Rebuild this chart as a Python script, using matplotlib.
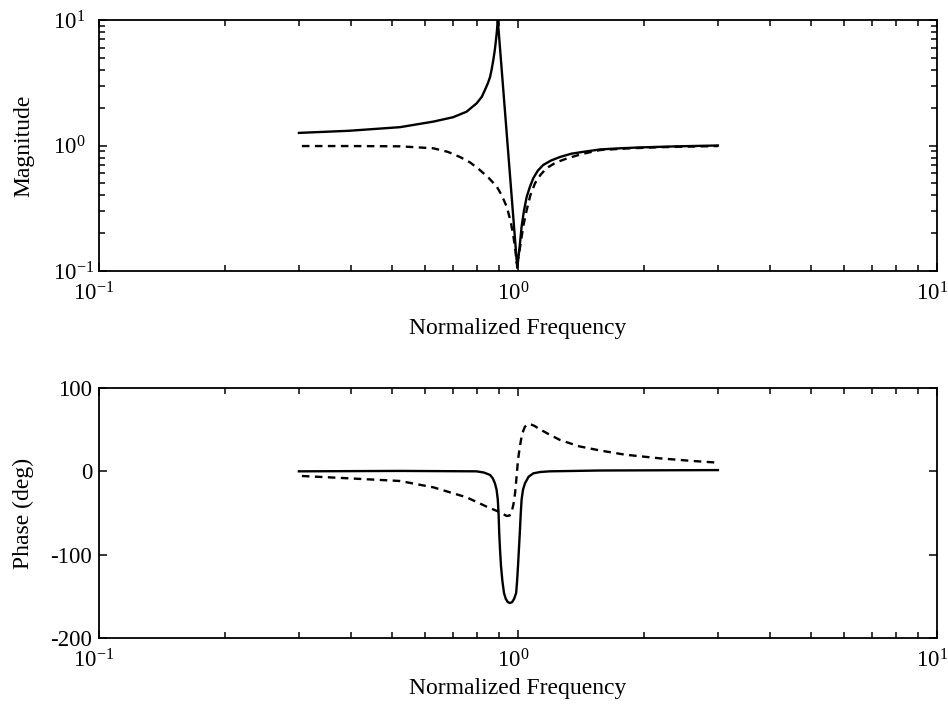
import numpy as np
import matplotlib
matplotlib.use("Agg")
import matplotlib.pyplot as plt
import matplotlib.transforms as mtransforms
from matplotlib.ticker import FixedLocator, FixedFormatter, NullFormatter, LogLocator

plt.rcParams['font.family'] = ['Liberation Serif', 'DejaVu Serif']
plt.rcParams['mathtext.fontset'] = 'custom'
plt.rcParams['mathtext.rm'] = 'Liberation Serif'
plt.rcParams['mathtext.it'] = 'Liberation Serif'
plt.rcParams['font.size'] = 17

# magnitude response, solid trace
mag_freq_a = [0.3, 0.395, 0.523, 0.628, 0.70, 0.754, 0.797, 0.82, 0.834, 0.848,
              0.858, 0.866, 0.873, 0.88, 0.886, 0.891, 0.895, 0.996, 1.008, 1.02,
              1.033, 1.049, 1.068, 1.088, 1.115, 1.149, 1.2, 1.26, 1.34, 1.43,
              1.57, 1.75, 1.95, 2.4, 3.0]
mag_a = [1.26, 1.31, 1.40, 1.55, 1.68, 1.86, 2.17, 2.45, 2.77, 3.15,
         3.53, 4.1, 4.78, 5.7, 6.9, 8.3, 10.0, 0.106, 0.15, 0.225,
         0.30, 0.39, 0.47, 0.55, 0.63, 0.70, 0.76, 0.81, 0.86, 0.89,
         0.93, 0.95, 0.965, 0.985, 1.0]

# magnitude response, dashed trace
mag_freq_b = [0.305, 0.4, 0.523, 0.628, 0.68, 0.727, 0.77, 0.81, 0.85, 0.89,
              0.915, 0.94, 0.96, 0.975, 0.986, 0.993, 1.003, 1.015, 1.03, 1.049,
              1.07, 1.098, 1.13, 1.17, 1.23, 1.31, 1.43, 1.57, 1.85, 2.2, 3.0]
mag_b = [0.99, 0.99, 0.985, 0.95, 0.89, 0.81, 0.73, 0.64, 0.555, 0.47,
         0.40, 0.325, 0.25, 0.19, 0.145, 0.116, 0.13, 0.167, 0.23, 0.306,
         0.40, 0.50, 0.58, 0.66, 0.73, 0.79, 0.86, 0.92, 0.95, 0.97, 0.99]

# phase response, solid trace
ph_freq_a = [0.3, 0.523, 0.797, 0.83, 0.858, 0.871, 0.881, 0.889, 0.895, 0.899,
             0.902, 0.906, 0.911, 0.918, 0.926, 0.935, 0.946, 0.957, 0.968, 0.979,
             0.99, 0.995, 1.0, 1.005, 1.01, 1.015, 1.02, 1.028, 1.039, 1.06,
             1.088, 1.13, 1.19, 1.57, 3.0]
ph_a = [0, 0.5, 0, -1.5, -4.4, -8.5, -14.4, -22, -34, -52,
        -74, -94, -114, -132, -146, -153, -157, -158, -157, -153,
        -146, -132, -114, -94, -74, -52, -34, -22, -14.4, -6.5,
        -2.4, -0.8, 0, 1, 1.5]

# phase response, dashed trace
ph_freq_b = [0.305, 0.395, 0.523, 0.628, 0.754, 0.842, 0.9, 0.94, 0.955, 0.966,
             0.975, 0.984, 0.992, 1.0, 1.01, 1.02, 1.03, 1.039, 1.052, 1.068,
             1.095, 1.128, 1.19, 1.26, 1.4, 1.57, 1.8, 2.18, 2.6, 3.0]
ph_b = [-5.6, -8.4, -11.6, -19.2, -31.2, -42.4, -48.5, -53.6, -53, -48.4,
        -40, -26.4, -7, 13.6, 29, 41.6, 49, 53.6, 56, 56.8,
        54.5, 50.4, 44, 37.6, 30, 25, 20, 15.6, 12.5, 10.4]

decades = [0.1, 1.0, 10.0]
decade_labels = [r'$10^{-1}$', r'$10^{0}$', r'$10^{1}$']
phase_ticks = [-200, -100, 0, 100]

fig = plt.figure(figsize=(9.48, 7.07), dpi=100)
ax1 = fig.add_axes([0.1044, 0.6167, 0.8840, 0.3550])
ax2 = fig.add_axes([0.1044, 0.0976, 0.8840, 0.3536])

LW = 1.7
DASH = (0, (3.2, 2.3))
TICK_FS = 16.5


def style_xaxis(ax, label_y):
    ax.set_xscale('log')
    ax.set_xlim(0.1, 10)
    ax.xaxis.set_major_locator(FixedLocator(decades))
    ax.xaxis.set_major_formatter(FixedFormatter(decade_labels))
    ax.xaxis.set_minor_locator(LogLocator(base=10, subs=np.arange(2, 10)))
    ax.xaxis.set_minor_formatter(NullFormatter())
    ax.set_xlabel('Normalized Frequency')
    ax.xaxis.set_label_coords(0.5, label_y)
    ax.tick_params(which='both', direction='in', top=True, right=True, width=1.1,
                   labelsize=TICK_FS)
    ax.tick_params(which='major', length=6)
    ax.tick_params(which='minor', length=4)
    ax.tick_params(axis='x', which='major', pad=8)
    # nudge the decade labels slightly left of their ticks
    shift = mtransforms.ScaledTranslation(-5 / 100, 0, fig.dpi_scale_trans)
    for lab in ax.get_xticklabels():
        lab.set_transform(lab.get_transform() + shift)
    for s in ax.spines.values():
        s.set_linewidth(1.3)


ax1.plot(mag_freq_a, mag_a, color='black', lw=LW)
ax1.plot(mag_freq_b, mag_b, color='black', lw=LW, linestyle=DASH)
style_xaxis(ax1, -0.187)
ax1.set_yscale('log')
ax1.set_ylim(0.1, 10)
ax1.yaxis.set_major_locator(FixedLocator(decades))
ax1.yaxis.set_major_formatter(FixedFormatter(decade_labels))
ax1.yaxis.set_minor_locator(LogLocator(base=10, subs=np.arange(2, 10)))
ax1.yaxis.set_minor_formatter(NullFormatter())
ax1.tick_params(axis='y', which='major', pad=33)
for lab in ax1.get_yticklabels():
    lab.set_horizontalalignment('left')
ax1.set_ylabel('Magnitude')
ax1.yaxis.set_label_coords(-0.077, 0.5)

ax2.plot(ph_freq_a, ph_a, color='black', lw=LW)
ax2.plot(ph_freq_b, ph_b, color='black', lw=LW, linestyle=DASH)
style_xaxis(ax2, -0.16)
ax2.set_ylim(-200, 100)
ax2.yaxis.set_major_locator(FixedLocator(phase_ticks))
ax2.yaxis.set_major_formatter(FixedFormatter([str(t) for t in phase_ticks]))
ax2.tick_params(axis='y', which='major', pad=5)
ax2.set_ylabel('Phase (deg)')
ax2.yaxis.set_label_coords(-0.077, 0.5)

fig.savefig('out.png', dpi=100)
